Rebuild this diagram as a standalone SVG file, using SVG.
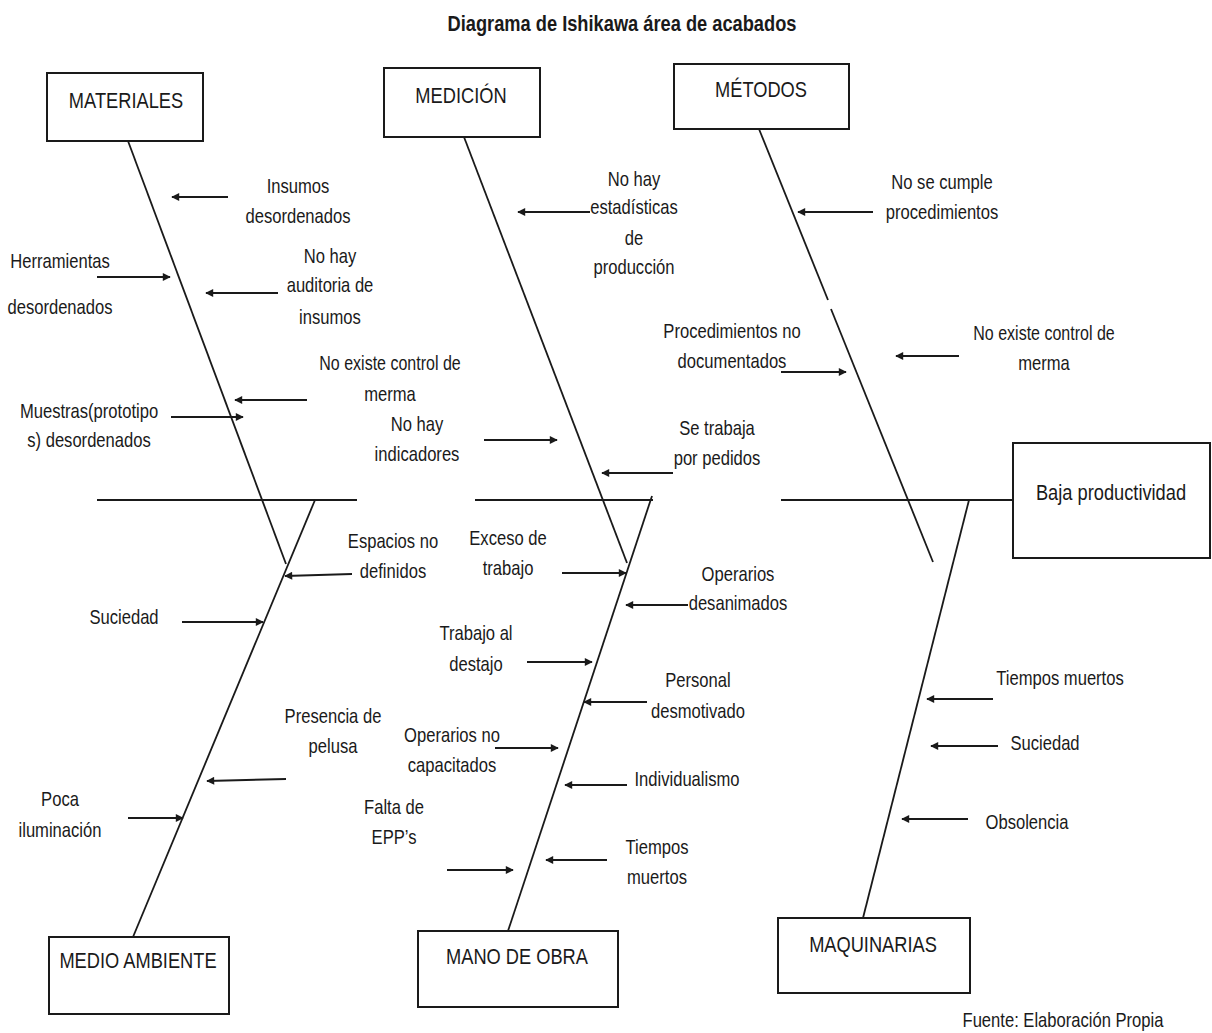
<svg xmlns="http://www.w3.org/2000/svg" width="1212" height="1033" viewBox="0 0 1212 1033">
<style>
.bg{fill:#fff}
.box{fill:#fff;stroke:#1a1a1a;stroke-width:2}
.ln{stroke:#1a1a1a;stroke-width:1.8;fill:none}
.ar{stroke:#1a1a1a;stroke-width:2;fill:none;marker-end:url(#ah)}
text{font-family:"Liberation Sans",Arial,sans-serif;fill:#1a1a1a;text-anchor:middle}
.t{font-size:20px}
.h{font-size:22px}
.ti{font-size:22px;font-weight:bold}
</style>
<defs>
<marker id="ah" viewBox="0 0 10 10" refX="9" refY="5" markerWidth="9" markerHeight="8" markerUnits="userSpaceOnUse" orient="auto">
<path d="M0,0 L10,5 L0,10 z" fill="#1a1a1a"/>
</marker>
</defs>
<rect class="bg" x="0" y="0" width="1212" height="1033"/>
<text class="ti" transform="translate(622,31) scale(0.83,1)">Diagrama de Ishikawa área de acabados</text>

<g id="connectors">
<line class="ln" x1="97" y1="500" x2="357" y2="500"/>
<line class="ln" x1="475" y1="500" x2="653" y2="500"/>
<line class="ln" x1="781" y1="500" x2="1013" y2="500"/>
<line class="ln" x1="128" y1="141" x2="286" y2="564"/>
<line class="ln" x1="464" y1="137" x2="627" y2="563"/>
<line class="ln" x1="759" y1="129" x2="828" y2="300"/>
<line class="ln" x1="831" y1="309" x2="933" y2="562"/>
<line class="ln" x1="315" y1="500" x2="133" y2="937"/>
<line class="ln" x1="652" y1="496" x2="508" y2="931"/>
<line class="ln" x1="969" y1="500" x2="863" y2="918"/>
<line class="ar" x1="228" y1="197" x2="172" y2="197"/>
<line class="ar" x1="97" y1="277" x2="170" y2="277"/>
<line class="ar" x1="278" y1="293" x2="206" y2="293"/>
<line class="ar" x1="307" y1="400" x2="235" y2="400"/>
<line class="ar" x1="171" y1="417" x2="243" y2="417"/>
<line class="ar" x1="484" y1="440" x2="557" y2="440"/>
<line class="ar" x1="590" y1="212" x2="518" y2="212"/>
<line class="ar" x1="673" y1="473" x2="602" y2="473"/>
<line class="ar" x1="873" y1="212" x2="798" y2="212"/>
<line class="ar" x1="781" y1="372" x2="846" y2="372"/>
<line class="ar" x1="959" y1="356" x2="896" y2="356"/>
<line class="ar" x1="352" y1="574" x2="285" y2="576"/>
<line class="ar" x1="182" y1="622" x2="263" y2="622"/>
<line class="ar" x1="286" y1="779" x2="207" y2="781"/>
<line class="ar" x1="128" y1="818" x2="183" y2="818"/>
<line class="ar" x1="562" y1="573" x2="626" y2="573"/>
<line class="ar" x1="688" y1="605" x2="626" y2="605"/>
<line class="ar" x1="527" y1="662" x2="592" y2="662"/>
<line class="ar" x1="647" y1="702" x2="584" y2="702"/>
<line class="ar" x1="495" y1="748" x2="558" y2="748"/>
<line class="ar" x1="627" y1="785" x2="565" y2="785"/>
<line class="ar" x1="447" y1="870" x2="513" y2="870"/>
<line class="ar" x1="607" y1="860" x2="546" y2="860"/>
<line class="ar" x1="993" y1="699" x2="927" y2="699"/>
<line class="ar" x1="998" y1="746" x2="931" y2="746"/>
<line class="ar" x1="968" y1="819" x2="902" y2="819"/>
</g>

<g id="materiales">
<rect class="box" x="47" y="73" width="156" height="68"/>
<text class="h" transform="translate(126,108) scale(0.83,1)">MATERIALES</text>
</g>
<g id="medicion">
<rect class="box" x="384" y="68" width="156" height="69"/>
<text class="h" transform="translate(461,103) scale(0.83,1)">MEDICIÓN</text>
</g>
<g id="metodos">
<rect class="box" x="674" y="64" width="175" height="65"/>
<text class="h" transform="translate(761,97) scale(0.83,1)">MÉTODOS</text>
</g>
<g id="efecto">
<rect class="box" x="1013" y="443" width="197" height="115"/>
<text class="h" transform="translate(1111,500) scale(0.83,1)">Baja productividad</text>
</g>
<g id="medio-ambiente">
<rect class="box" x="49" y="937" width="180" height="77"/>
<text class="h" transform="translate(138,968) scale(0.83,1)">MEDIO AMBIENTE</text>
</g>
<g id="mano-de-obra">
<rect class="box" x="418" y="931" width="200" height="76"/>
<text class="h" transform="translate(517,964) scale(0.83,1)">MANO DE OBRA</text>
</g>
<g id="maquinarias">
<rect class="box" x="778" y="918" width="192" height="75"/>
<text class="h" transform="translate(873,952) scale(0.83,1)">MAQUINARIAS</text>
</g>

<g id="causas-materiales" class="t">
<text transform="translate(298,193) scale(0.83,1)">Insumos</text>
<text transform="translate(298,223) scale(0.83,1)">desordenados</text>
<text transform="translate(60,268) scale(0.83,1)">Herramientas</text>
<text transform="translate(60,314) scale(0.83,1)">desordenados</text>
<text transform="translate(330,263) scale(0.83,1)">No hay</text>
<text transform="translate(330,292) scale(0.83,1)">auditoria de</text>
<text transform="translate(330,324) scale(0.83,1)">insumos</text>
<text transform="translate(390,370) scale(0.8,1)">No existe control de</text>
<text transform="translate(390,401) scale(0.83,1)">merma</text>
<text transform="translate(89,418) scale(0.83,1)">Muestras(prototipo</text>
<text transform="translate(89,447) scale(0.83,1)">s) desordenados</text>
</g>
<g id="causas-medicion" class="t">
<text transform="translate(417,431) scale(0.83,1)">No hay</text>
<text transform="translate(417,461) scale(0.83,1)">indicadores</text>
<text transform="translate(634,186) scale(0.83,1)">No hay</text>
<text transform="translate(634,214) scale(0.83,1)">estadísticas</text>
<text transform="translate(634,245) scale(0.83,1)">de</text>
<text transform="translate(634,274) scale(0.83,1)">producción</text>
<text transform="translate(717,435) scale(0.83,1)">Se trabaja</text>
<text transform="translate(717,465) scale(0.83,1)">por pedidos</text>
</g>
<g id="causas-metodos" class="t">
<text transform="translate(942,189) scale(0.83,1)">No se cumple</text>
<text transform="translate(942,219) scale(0.83,1)">procedimientos</text>
<text transform="translate(732,338) scale(0.83,1)">Procedimientos no</text>
<text transform="translate(732,368) scale(0.83,1)">documentados</text>
<text transform="translate(1044,340) scale(0.8,1)">No existe control de</text>
<text transform="translate(1044,370) scale(0.83,1)">merma</text>
</g>
<g id="causas-medio-ambiente" class="t">
<text transform="translate(393,548) scale(0.83,1)">Espacios no</text>
<text transform="translate(393,578) scale(0.83,1)">definidos</text>
<text transform="translate(124,624) scale(0.83,1)">Suciedad</text>
<text transform="translate(333,723) scale(0.83,1)">Presencia de</text>
<text transform="translate(333,753) scale(0.83,1)">pelusa</text>
<text transform="translate(60,806) scale(0.83,1)">Poca</text>
<text transform="translate(60,837) scale(0.83,1)">iluminación</text>
</g>
<g id="causas-mano-de-obra" class="t">
<text transform="translate(508,545) scale(0.83,1)">Exceso de</text>
<text transform="translate(508,575) scale(0.83,1)">trabajo</text>
<text transform="translate(738,581) scale(0.83,1)">Operarios</text>
<text transform="translate(738,610) scale(0.83,1)">desanimados</text>
<text transform="translate(476,640) scale(0.83,1)">Trabajo al</text>
<text transform="translate(476,671) scale(0.83,1)">destajo</text>
<text transform="translate(698,687) scale(0.83,1)">Personal</text>
<text transform="translate(698,718) scale(0.83,1)">desmotivado</text>
<text transform="translate(452,742) scale(0.83,1)">Operarios no</text>
<text transform="translate(452,772) scale(0.83,1)">capacitados</text>
<text transform="translate(394,814) scale(0.83,1)">Falta de</text>
<text transform="translate(394,844) scale(0.83,1)">EPP’s</text>
<text transform="translate(687,786) scale(0.83,1)">Individualismo</text>
<text transform="translate(657,854) scale(0.83,1)">Tiempos</text>
<text transform="translate(657,884) scale(0.83,1)">muertos</text>
</g>
<g id="causas-maquinarias" class="t">
<text transform="translate(1060,685) scale(0.83,1)">Tiempos muertos</text>
<text transform="translate(1045,750) scale(0.83,1)">Suciedad</text>
<text transform="translate(1027,829) scale(0.83,1)">Obsolencia</text>
</g>
<text class="t" transform="translate(1063,1027) scale(0.83,1)">Fuente: Elaboración Propia</text>
</svg>
